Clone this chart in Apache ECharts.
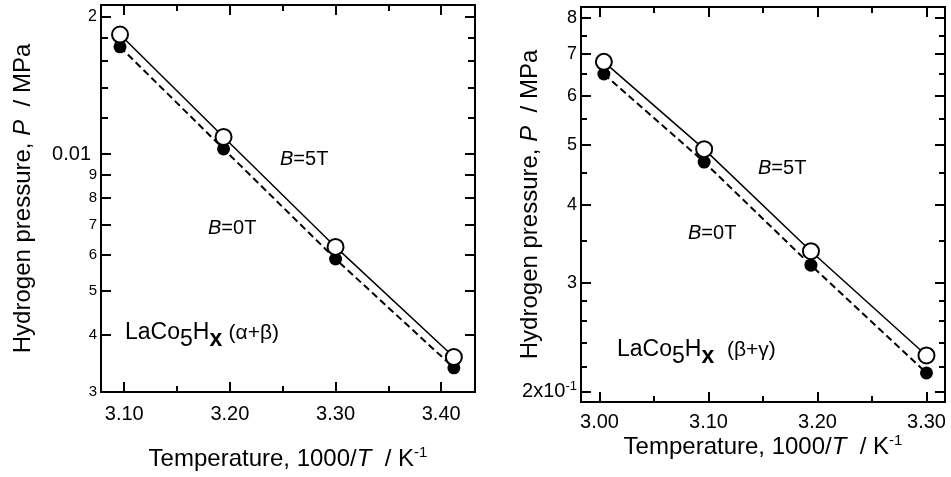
<!DOCTYPE html>
<html>
<head>
<meta charset="utf-8">
<script src="https://cdn.jsdelivr.net/npm/echarts@6/dist/echarts.min.js"></script>
<style>
html, body { margin: 0; padding: 0; background: #fff; }
#main { width: 951px; height: 477px; }
</style>
</head>
<body>
<div id="main"></div>
<script>
// left panel: LaCo5Hx (alpha+beta)
var xLeft = [3.096, 3.194, 3.300, 3.412];
var pLeft5T = [0.0183, 0.0109, 0.00625, 0.00358];
var pLeft0T = [0.0172, 0.01026, 0.00588, 0.00339];
var xTicksLeft = [3.10, 3.20, 3.30, 3.40];
var xMinorLeft = [3.15, 3.25, 3.35];
var yTicksLeft = [0.003, 0.004, 0.005, 0.006, 0.007, 0.008, 0.009, 0.01, 0.02];
var yMinorLeft = [0.012, 0.014, 0.016, 0.018];

// right panel: LaCo5Hx (beta+gamma)
var xRight = [3.004, 3.096, 3.194, 3.300];
var pRight5T = [0.680, 0.492, 0.337, 0.229];
var pRight0T = [0.650, 0.469, 0.320, 0.2146];
var xTicksRight = [3.00, 3.10, 3.20, 3.30];
var xMinorRight = [3.05, 3.15, 3.25];
var yTicksRight = [0.2, 0.3, 0.4, 0.5, 0.6, 0.7, 0.8];
var yMinorRight = [0.22, 0.24, 0.26, 0.28, 0.35, 0.45, 0.55, 0.65, 0.75];

var FONT = 'Liberation Sans';

function pairs(xs, ys) {
	var out = [];
	for (var i = 0; i < xs.length; i++) out.push([xs[i], ys[i]]);
	return out;
}

var xName = 'Temperature, 1000/{i|T}  / K{sup|-1}';
var yName = 'Hydrogen pressure, {i|P}  / MPa';
var nameStyle = {
	fontSize: 24, fontFamily: FONT, color: '#000',
	rich: {
		i: { fontSize: 24, fontFamily: FONT, fontStyle: 'italic', color: '#000' },
		sup: { fontSize: 15, fontFamily: FONT, color: '#000', padding: [0, 0, 14, 0] }
	}
};

function xAxisOf(gi, min, max, pos, vals, len, label, gap, margin) {
	var ax = {
		type: 'value', gridIndex: gi, min: min, max: max, position: pos,
		axisLine: { show: true, onZero: false, lineStyle: { color: '#000', width: 2 } },
		splitLine: { show: false },
		axisTick: { show: true, inside: true, length: len, customValues: vals, lineStyle: { color: '#000', width: 2 } },
		axisLabel: { show: false }
	};
	if (label) {
		ax.axisLabel = {
			show: true, customValues: vals, margin: margin, fontSize: 20, fontFamily: FONT, color: '#000',
			formatter: function (v) { return v.toFixed(2); }
		};
		ax.name = xName;
		ax.nameLocation = 'middle';
		ax.nameGap = gap;
		ax.nameMoveOverlap = false;
		ax.nameTextStyle = nameStyle;
	}
	return ax;
}

function yAxisOf(gi, min, max, pos, vals, len, fmt, gap) {
	var ax = {
		type: 'log', logBase: 10, gridIndex: gi, min: min, max: max, position: pos,
		axisLine: { show: true, onZero: false, lineStyle: { color: '#000', width: 2 } },
		splitLine: { show: false },
		minorTick: { show: false },
		axisTick: { show: true, inside: true, length: len, customValues: vals, lineStyle: { color: '#000', width: 2 } },
		axisLabel: { show: false }
	};
	if (fmt) {
		ax.axisLabel = {
			show: true, customValues: vals, margin: 4, color: '#000', fontFamily: FONT,
			formatter: fmt,
			rich: {
				b: { fontSize: 20, fontFamily: FONT, color: '#000', padding: [0, 6, 0, 0] },
				m: { fontSize: 16, fontFamily: FONT, color: '#000' },
				s: { fontSize: 15, fontFamily: FONT, color: '#000' },
				r: { fontSize: 18, fontFamily: FONT, color: '#000' },
				rb: { fontSize: 20, fontFamily: FONT, color: '#000' },
				sup: { fontSize: 13, fontFamily: FONT, color: '#000', padding: [0, 0, 11, 0] }
			}
		};
		ax.name = yName;
		ax.nameLocation = 'middle';
		ax.nameRotate = 90;
		ax.nameGap = gap;
		ax.nameMoveOverlap = false;
		ax.nameTextStyle = nameStyle;
	}
	return ax;
}

function fmtLeft(v) {
	if (Math.abs(v - 0.01) < 1e-6) return '{b|0.01}';
	if (Math.abs(v - 0.02) < 1e-6) return '{m|2}';
	return '{s|' + Math.round(v * 1000) + '}';
}

function fmtRight(v) {
	if (Math.abs(v - 0.2) < 1e-6) return '{rb|2x10}{sup|-1}';
	return '{r|' + Math.round(v * 10) + '}';
}

function lineSeries(gi, data, filled) {
	return {
		type: 'line', xAxisIndex: gi * 4, yAxisIndex: gi * 4, data: data,
		symbol: 'circle', symbolSize: filled ? 13 : 16,
		lineStyle: { color: '#000', width: filled ? 2 : 1.5, type: filled ? [7, 4] : 'solid' },
		itemStyle: filled ? { color: '#000' } : { color: '#fff', borderColor: '#000', borderWidth: 2 },
		emphasis: { disabled: true }
	};
}

function annot(x, y, text, size) {
	return {
		type: 'text', x: x, y: y, silent: true,
		style: {
			text: text, fill: '#000', fontSize: size, fontFamily: FONT, verticalAlign: 'middle',
			rich: {
				i: { fontSize: size, fontFamily: FONT, fontStyle: 'italic', fill: '#000' },
				n: { fontSize: 23, fontFamily: FONT, fill: '#000' },
				sub: { fontSize: 23, fontFamily: FONT, fill: '#000', padding: [13, 0, 0, 0] },
				subx: { fontSize: 23, fontFamily: FONT, fontWeight: 'bold', fill: '#000', padding: [13, 0, 0, 0] },
				g: { fontSize: 21, fontFamily: FONT, fill: '#000' }
			}
		}
	};
}

var chart = echarts.init(document.getElementById('main'));
var option = {
	animation: false,
	backgroundColor: '#fff',
	grid: [
		{ left: 101, top: 5, width: 374, height: 387 },
		{ left: 581, top: 7, width: 364, height: 395 }
	],
	xAxis: [
		xAxisOf(0, 3.078, 3.432, 'bottom', xTicksLeft, 10, true, 53, 12),
		xAxisOf(0, 3.078, 3.432, 'bottom', xMinorLeft, 6, false),
		xAxisOf(0, 3.078, 3.432, 'top', xTicksLeft, 10, false),
		xAxisOf(0, 3.078, 3.432, 'top', xMinorLeft, 6, false),
		xAxisOf(1, 2.983, 3.317, 'bottom', xTicksRight, 10, true, 31, 10),
		xAxisOf(1, 2.983, 3.317, 'bottom', xMinorRight, 6, false),
		xAxisOf(1, 2.983, 3.317, 'top', xTicksRight, 10, false),
		xAxisOf(1, 2.983, 3.317, 'top', xMinorRight, 6, false)
	],
	yAxis: [
		yAxisOf(0, 0.003, 0.02125, 'left', yTicksLeft, 10, fmtLeft, 66),
		yAxisOf(0, 0.003, 0.02125, 'left', yMinorLeft, 7, null),
		yAxisOf(0, 0.003, 0.02125, 'right', yTicksLeft, 10, null),
		yAxisOf(0, 0.003, 0.02125, 'right', yMinorLeft, 7, null),
		yAxisOf(1, 0.1927, 0.8333, 'left', yTicksRight, 10, fmtRight, 39),
		yAxisOf(1, 0.1927, 0.8333, 'left', yMinorRight, 6, null),
		yAxisOf(1, 0.1927, 0.8333, 'right', yTicksRight, 10, null),
		yAxisOf(1, 0.1927, 0.8333, 'right', yMinorRight, 6, null)
	],
	series: [
		lineSeries(0, pairs(xLeft, pLeft0T), true),
		lineSeries(0, pairs(xLeft, pLeft5T), false),
		lineSeries(1, pairs(xRight, pRight0T), true),
		lineSeries(1, pairs(xRight, pRight5T), false)
	],
	graphic: [
		annot(280, 159, '{i|B}=5T', 20),
		annot(208, 228, '{i|B}=0T', 20),
		annot(125, 333, '{n|LaCo}{sub|5}{n|H}{subx|x} {g|(\u03b1+\u03b2)}', 23),
		annot(758, 168, '{i|B}=5T', 20),
		annot(688, 233, '{i|B}=0T', 20),
		annot(617, 350, '{n|LaCo}{sub|5}{n|H}{subx|x}  {g|(\u03b2+\u03b3)}', 23)
	]
};
chart.setOption(option);
</script>
</body>
</html>
